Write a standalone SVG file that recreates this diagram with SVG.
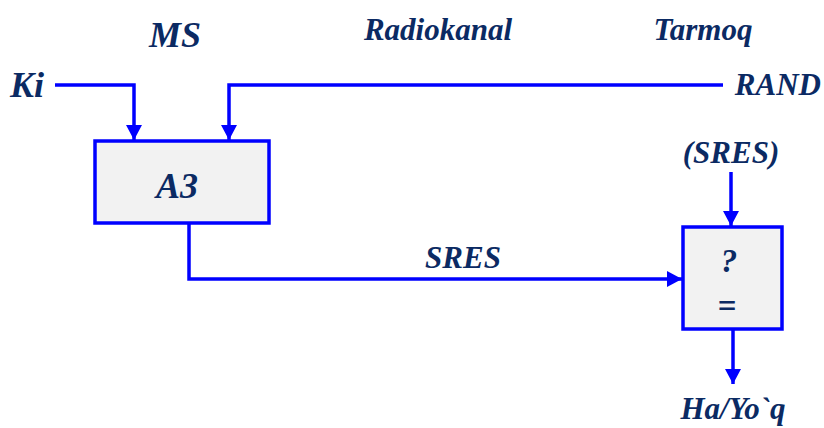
<svg xmlns="http://www.w3.org/2000/svg" width="824" height="428" viewBox="0 0 824 428">
<style>
.t{font-family:"Liberation Serif","Times New Roman",serif;font-weight:bold;font-style:italic;fill:#0b2a63}
.ln{fill:none;stroke:#0000ff;stroke-width:3.5}
.bx{fill:#f2f2f2;stroke:#0000ff;stroke-width:3.5}
</style>
<defs>
<marker id="ah" markerUnits="userSpaceOnUse" markerWidth="16" markerHeight="16" viewBox="0 0 16 16" refX="15" refY="8" orient="auto">
<path d="M0,0 L15,8 L0,16 Z" fill="#0000ff"/>
</marker>
</defs>
<g id="labels">
<text class="t" x="175" y="47" font-size="36" text-anchor="middle">MS</text>
<text class="t" x="438" y="40" font-size="31" text-anchor="middle">Radiokanal</text>
<text class="t" x="703" y="40" font-size="31" text-anchor="middle">Tarmoq</text>
<text class="t" x="10" y="97" font-size="36">Ki</text>
<text class="t" x="821" y="95" font-size="31" text-anchor="end">RAND</text>
<text class="t" x="731" y="163" font-size="31" text-anchor="middle">(SRES)</text>
<text class="t" x="463" y="268" font-size="31" text-anchor="middle">SRES</text>
<text class="t" x="733" y="419" font-size="31" text-anchor="middle">Ha/Yo`q</text>
</g>
<g id="node-a3">
<rect class="bx" x="95" y="141" width="174" height="82"/>
<text class="t" x="177" y="198" font-size="36" text-anchor="middle">A3</text>
</g>
<g id="node-compare">
<rect class="bx" x="683" y="227" width="99" height="102"/>
<text class="t" x="729" y="272" font-size="33" text-anchor="middle">?</text>
<text class="t" x="727" y="317" font-size="33" text-anchor="middle">=</text>
</g>
<g id="connectors">
<path class="ln" d="M55,85 H134 V140" marker-end="url(#ah)"/>
<path class="ln" d="M723,85 H229 V140" marker-end="url(#ah)"/>
<path class="ln" d="M189,223 V279 H682" marker-end="url(#ah)"/>
<path class="ln" d="M731,172 V226" marker-end="url(#ah)"/>
<path class="ln" d="M733,329 V384" marker-end="url(#ah)"/>
</g>
</svg>
